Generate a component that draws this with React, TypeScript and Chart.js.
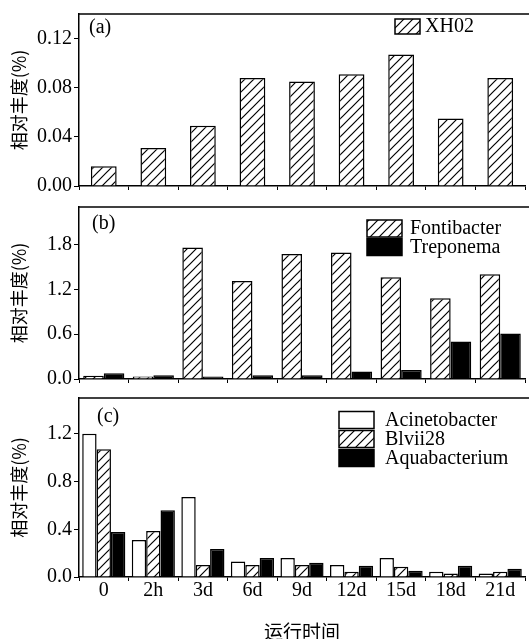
import React, { useEffect, useRef } from 'react';
import { Chart, registerables } from 'chart.js';

Chart.register(...registerables);

// ---------- data ----------
const categories = ['0', '2h', '3d', '6d', '9d', '12d', '15d', '18d', '21d'];

const xh02 = [0.016, 0.031, 0.049, 0.088, 0.085, 0.091, 0.107, 0.055, 0.088];

const fontibacter = [0.045, 0.035, 1.76, 1.31, 1.67, 1.69, 1.36, 1.08, 1.40];
const treponema = [0.078, 0.05, 0.035, 0.05, 0.05, 0.10, 0.12, 0.50, 0.61];

const acinetobacter = [1.20, 0.31, 0.67, 0.13, 0.16, 0.10, 0.16, 0.045, 0.03];
const blvii28 = [1.07, 0.385, 0.10, 0.10, 0.10, 0.045, 0.085, 0.03, 0.045];
const aquabacterium = [0.377, 0.56, 0.234, 0.16, 0.12, 0.095, 0.052, 0.095, 0.07];

const yTicksA = [0, 0.04, 0.08, 0.12];
const yTicksB = [0, 0.6, 1.2, 1.8];
const yTicksC = [0, 0.4, 0.8, 1.2];

const yTitle = '相对丰度(%)';
const xTitle = '运行时间';

// ---------- styles ----------
const SERIF = '"Liberation Serif", "Times New Roman", serif';
const CJK = '"Noto Sans CJK SC", "Noto Sans", sans-serif';
const FS = 20;

type Fill = 'hatch' | 'black' | 'white';

interface Series {
  name: string;
  values: number[];
  fill: Fill;
}

interface PanelSpec {
  id: string;
  label: string;
  top: number;
  height: number;
  padTop: number;
  xHeight: number;
  max: number;
  ticks: number[];
  decimals: number;
  catPct: number;
  showX: boolean;
  series: Series[];
  labelPos: [number, number];
  legendBox: { x: number; y: number; w: number; h: number; pitch: number; textX: number };
}

const panels: PanelSpec[] = [
  {
    id: 'a',
    label: '(a)',
    top: 0,
    height: 200,
    padTop: 10,
    xHeight: 11,
    max: 0.14,
    ticks: yTicksA,
    decimals: 2,
    catPct: 0.52,
    showX: false,
    series: [{ name: 'XH02', values: xh02, fill: 'hatch' }],
    labelPos: [89, 27.5],
    legendBox: { x: 395, y: 19, w: 25, h: 15, pitch: 18, textX: 425 },
  },
  {
    id: 'b',
    label: '(b)',
    top: 193,
    height: 200,
    padTop: 11,
    xHeight: 12,
    max: 2.3,
    ticks: yTicksB,
    decimals: 1,
    catPct: 0.83,
    showX: false,
    series: [
      { name: 'Fontibacter', values: fontibacter, fill: 'hatch' },
      { name: 'Treponema', values: treponema, fill: 'black' },
    ],
    labelPos: [92, 224],
    legendBox: { x: 367, y: 220, w: 35, h: 17, pitch: 18.5, textX: 410 },
  },
  {
    id: 'c',
    label: '(c)',
    top: 380,
    height: 263,
    padTop: 18,
    xHeight: 66,
    max: 1.5,
    ticks: yTicksC,
    decimals: 1,
    catPct: 0.87,
    showX: true,
    series: [
      { name: 'Acinetobacter', values: acinetobacter, fill: 'white' },
      { name: 'Blvii28', values: blvii28, fill: 'hatch' },
      { name: 'Aquabacterium', values: aquabacterium, fill: 'black' },
    ],
    labelPos: [97, 416.7],
    legendBox: { x: 339, y: 411.5, w: 35, h: 17, pitch: 19, textX: 385 },
  },
];

function makeHatch(ctx: CanvasRenderingContext2D): CanvasPattern | string {
  const s = 9;
  const c = document.createElement('canvas');
  c.width = s;
  c.height = s;
  const g = c.getContext('2d');
  if (!g) return '#fff';
  g.fillStyle = '#fff';
  g.fillRect(0, 0, s, s);
  g.strokeStyle = '#000';
  g.lineWidth = 1.2;
  g.beginPath();
  g.moveTo(-1, s + 1);
  g.lineTo(s + 1, -1);
  g.moveTo(-2, 2);
  g.lineTo(2, -2);
  g.moveTo(s - 2, s + 2);
  g.lineTo(s + 2, s - 2);
  g.stroke();
  return ctx.createPattern(c, 'repeat') || '#fff';
}

function fillOf(f: Fill, pat: CanvasPattern | string) {
  if (f === 'hatch') return pat;
  if (f === 'black') return '#000';
  return '#fff';
}

function decorPlugin(spec: PanelSpec, pat: CanvasPattern | string) {
  return {
    id: 'decor_' + spec.id,
    afterDraw(chart: any) {
      const { ctx, chartArea: ca } = chart;
      const off = spec.top;
      ctx.save();
      // top frame line
      ctx.strokeStyle = '#000';
      ctx.lineWidth = 1.5;
      ctx.beginPath();
      ctx.moveTo(ca.left, ca.top);
      ctx.lineTo(ca.right + 4, ca.top);
      ctx.stroke();
      // panel label
      ctx.fillStyle = '#000';
      ctx.font = `${FS}px ${SERIF}`;
      ctx.textAlign = 'left';
      ctx.textBaseline = 'middle';
      ctx.fillText(spec.label, spec.labelPos[0], spec.labelPos[1] - off);
      // legend
      const lb = spec.legendBox;
      spec.series.forEach((s, i) => {
        const y = lb.y + i * lb.pitch - off;
        ctx.fillStyle = fillOf(s.fill, pat);
        ctx.fillRect(lb.x, y, lb.w, lb.h);
        ctx.strokeStyle = '#000';
        ctx.lineWidth = 1.5;
        ctx.strokeRect(lb.x, y, lb.w, lb.h);
        ctx.fillStyle = '#000';
        ctx.font = `${FS}px ${SERIF}`;
        ctx.textBaseline = 'middle';
        ctx.fillText(s.name, lb.textX, y + lb.h / 2 + 0.5);
      });
      ctx.restore();
    },
  };
}

function Panel({ spec }: { spec: PanelSpec }) {
  const ref = useRef<HTMLCanvasElement | null>(null);

  useEffect(() => {
    const canvas = ref.current;
    if (!canvas) return;
    const ctx = canvas.getContext('2d');
    if (!ctx) return;
    const pat = makeHatch(ctx);

    const datasets = spec.series.map((s) => ({
      label: s.name,
      data: s.values,
      backgroundColor: fillOf(s.fill, pat),
      borderColor: '#000',
      borderWidth: 1.5,
      categoryPercentage: spec.catPct,
      barPercentage: 1,
    }));

    const chart = new Chart(canvas, {
      type: 'bar',
      data: { labels: categories, datasets: datasets as any },
      options: {
        responsive: false,
        animation: false,
        devicePixelRatio: 1,
        layout: { padding: { top: spec.padTop, right: 4, left: 0, bottom: 0 } },
        plugins: {
          legend: { display: false },
          tooltip: { enabled: false },
        },
        scales: {
          x: {
            grid: {
              display: true,
              drawOnChartArea: false,
              drawTicks: true,
              tickLength: 4,
              color: '#000',
              lineWidth: 1,
              offset: true,
            },
            border: { display: true, color: '#000', width: 1.5 },
            ticks: {
              display: spec.showX,
              color: '#000',
              font: { family: SERIF, size: FS, lineHeight: 1 },
              padding: 0,
              maxRotation: 0,
              autoSkip: false,
            },
            title: {
              display: spec.showX,
              text: xTitle,
              color: '#000',
              font: { family: CJK, size: 19 },
              padding: 0,
            },
            afterFit: (s: any) => {
              s.height = spec.xHeight;
            },
          } as any,
          y: {
            min: 0,
            max: spec.max,
            afterBuildTicks: (s: any) => {
              s.ticks = spec.ticks.map((v) => ({ value: v }));
            },
            ticks: {
              color: '#000',
              font: { family: SERIF, size: FS },
              padding: 2,
              callback: (v: any) => Number(v).toFixed(spec.decimals),
            },
            grid: {
              display: true,
              drawOnChartArea: false,
              drawTicks: true,
              tickLength: 5,
              color: '#000',
            },
            border: { display: true, color: '#000', width: 1.5 },
            title: {
              display: true,
              text: yTitle,
              color: '#000',
              font: { family: CJK, size: 18 },
              padding: { top: 8, bottom: 0 },
            },
            afterFit: (s: any) => {
              s.width = 79;
            },
          } as any,
        },
      },
      plugins: [decorPlugin(spec, pat)],
    });

    return () => chart.destroy();
  }, [spec]);

  return (
    <canvas
      ref={ref}
      width={529}
      height={spec.height}
      style={{ position: 'absolute', left: 0, top: spec.top, width: 529, height: spec.height }}
    />
  );
}

export default function App() {
  return (
    <div
      style={{
        position: 'fixed',
        left: 0,
        top: 0,
        width: 529,
        height: 639,
        overflow: 'hidden',
        background: '#fff',
      }}
    >
      {panels.map((p) => (
        <Panel key={p.id} spec={p} />
      ))}
    </div>
  );
}
